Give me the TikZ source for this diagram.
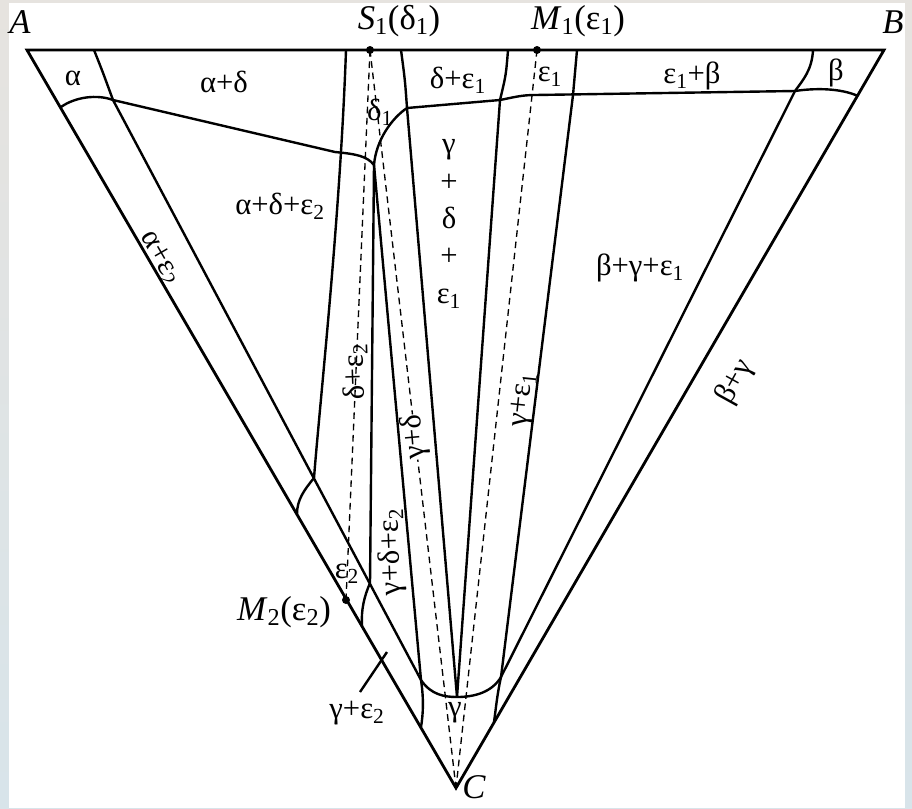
\documentclass[tikz,border=0pt]{standalone}
\usepackage{fontspec}
\setmainfont{Liberation Serif}
\usetikzlibrary{positioning}
\definecolor{bgtop}{HTML}{E6E3DF}
\definecolor{bgbot}{HTML}{D8E4EA}
\newcommand{\lo}[1]{\textsubscript{#1}}

\begin{document}
\begin{tikzpicture}[x=0.75pt,y=-0.75pt,
  edge/.style={line width=2.1pt,line join=miter},
  bnd/.style={line width=1.8pt},
  tie/.style={line width=1pt,dash pattern=on 5pt off 3.5pt},
  phase/.style={font=\fontsize{23}{28}\selectfont,inner sep=0pt},
  corner/.style={font=\fontsize{26}{30}\selectfont}]
\useasboundingbox (0,0) rectangle (912,808);
\shade[top color=bgtop,bottom color=bgbot] (0,0) rectangle (912,808);
\fill[white] (9,3) rectangle (905,808);

% corners and marked points
\coordinate (a) at (27,50);
\coordinate (b) at (884,50);
\coordinate (c) at (456,788);
\coordinate (s1) at (370,50);
\coordinate (m1) at (537,50);
\coordinate (m2) at (346,600);
% junctions of the boundaries
\coordinate (p) at (113,100);
\coordinate (j) at (374,165);
\coordinate (d) at (407,108);
\coordinate (e) at (500,100);
\coordinate (f) at (573,95);
\coordinate (q) at (795,91);
\coordinate (k) at (370,583);
\coordinate (x) at (314,478);
\coordinate (l) at (421,680);
\coordinate (r) at (501,677);
\coordinate (g) at (457,697);

% tie lines
\draw[tie] (s1) -- (m2);
\draw[tie] (s1) -- (c);
\draw[tie] (m1) -- (c);

\draw[edge] (a) -- (b) -- (c) -- cycle;

% left part
\draw[bnd] (61,107) .. controls (75,97) and (97,94) .. (p);
\draw[bnd] (94,50) .. controls (102,70) .. (p) -- (l);
\draw[bnd] (p) -- (335,152) .. controls (356,154) and (367,156) .. (j);
\draw[bnd] (346,50) .. controls (340,220) and (320,400) .. (x)
  .. controls (304,490) and (297,500) .. (297,514);
\draw[bnd] (j) -- (k) .. controls (364,597) and (361,610) .. (362,626);
\draw[bnd] (j) -- (l);
\draw[bnd] (l) .. controls (431,695) and (445,697) .. (g)
  .. controls (475,697) and (492,692) .. (r);
\draw[bnd] (l) .. controls (424,700) and (423,715) .. (421,727);
\draw[bnd] (r) .. controls (497,695) and (496,708) .. (494,722);
\draw[bnd] (387,652) -- (360,692);

% middle and right part
\draw[bnd] (401,50) .. controls (405,80) .. (d) -- (g);
\draw[bnd] (d) .. controls (392,118) and (376,140) .. (j);
\draw[bnd] (508,50) .. controls (506,75) .. (e) -- (g);
\draw[bnd] (577,50) -- (f) -- (r);
\draw[bnd] (d) -- (e) .. controls (515,97) and (522,95) .. (535,95) -- (q)
  .. controls (815,88) and (840,88) .. (858,96);
\draw[bnd] (813,50) .. controls (812,70) and (803,80) .. (q) -- (r);

\fill (s1) circle (3pt);
\fill (m1) circle (3pt);
\fill (m2) circle (3pt);

% point labels
\node[corner] (lblA) at (20,22) {\itshape A};
\node[corner] (lblB) at (893,22) {\itshape B};
\node[corner] (lblC) at (474,787) {\itshape C};
\node[corner] (lblS) at (399,21) {\textit{S}\lo{1}(δ\lo{1})};
\node[corner] (lblM1) at (578,21) {\textit{M}\lo{1}(ε\lo{1})};
\node[corner] (lblM2) at (284,612) {\textit{M}\lo{2}(ε\lo{2})};

% phase fields
\node[phase] (fa) at (73,78) {α};
\node[phase] (fad) at (224,82) {α+δ};
\node[phase] (fd) at (380,112) {δ\lo{1}};
\node[phase] (fde) at (458,80) {δ+ε\lo{1}};
\node[phase] (fe) at (550,77) {ε\lo{1}};
\node[phase] (feb) at (692,76) {ε\lo{1}+β};
\node[phase] (fb) at (836,73) {β};
\node[phase] (fade) at (280,206) {α+δ+ε\lo{2}};
\node[phase] (fbge) at (640,268) {β+γ+ε\lo{1}};
\node[phase,align=center] (fgde) at (449,224) {γ\\+\\δ\\+\\ε\lo{1}};
\node[phase,rotate=-60] (fae) at (160,258) {α+ε\lo{2}};
\node[phase,rotate=61] (fbg) at (735,382) {β+γ};
\node[phase,rotate=92] (fde2) at (355,372) {δ+ε\lo{2}};
\node[phase,rotate=95,fill=white] (fgd) at (415,437) {γ+δ};
\node[phase,rotate=92] (fgde2) at (392,552) {γ+δ+ε\lo{2}};
\node[phase,rotate=84] (fge1) at (524,400) {γ+ε\lo{1}};
\node[phase] (fe2) at (347,574) {ε\lo{2}};
\node[phase] (fge2) at (357,713) {γ+ε\lo{2}};
\node[phase] (fg) at (455,713) {γ};
\end{tikzpicture}
\end{document}
